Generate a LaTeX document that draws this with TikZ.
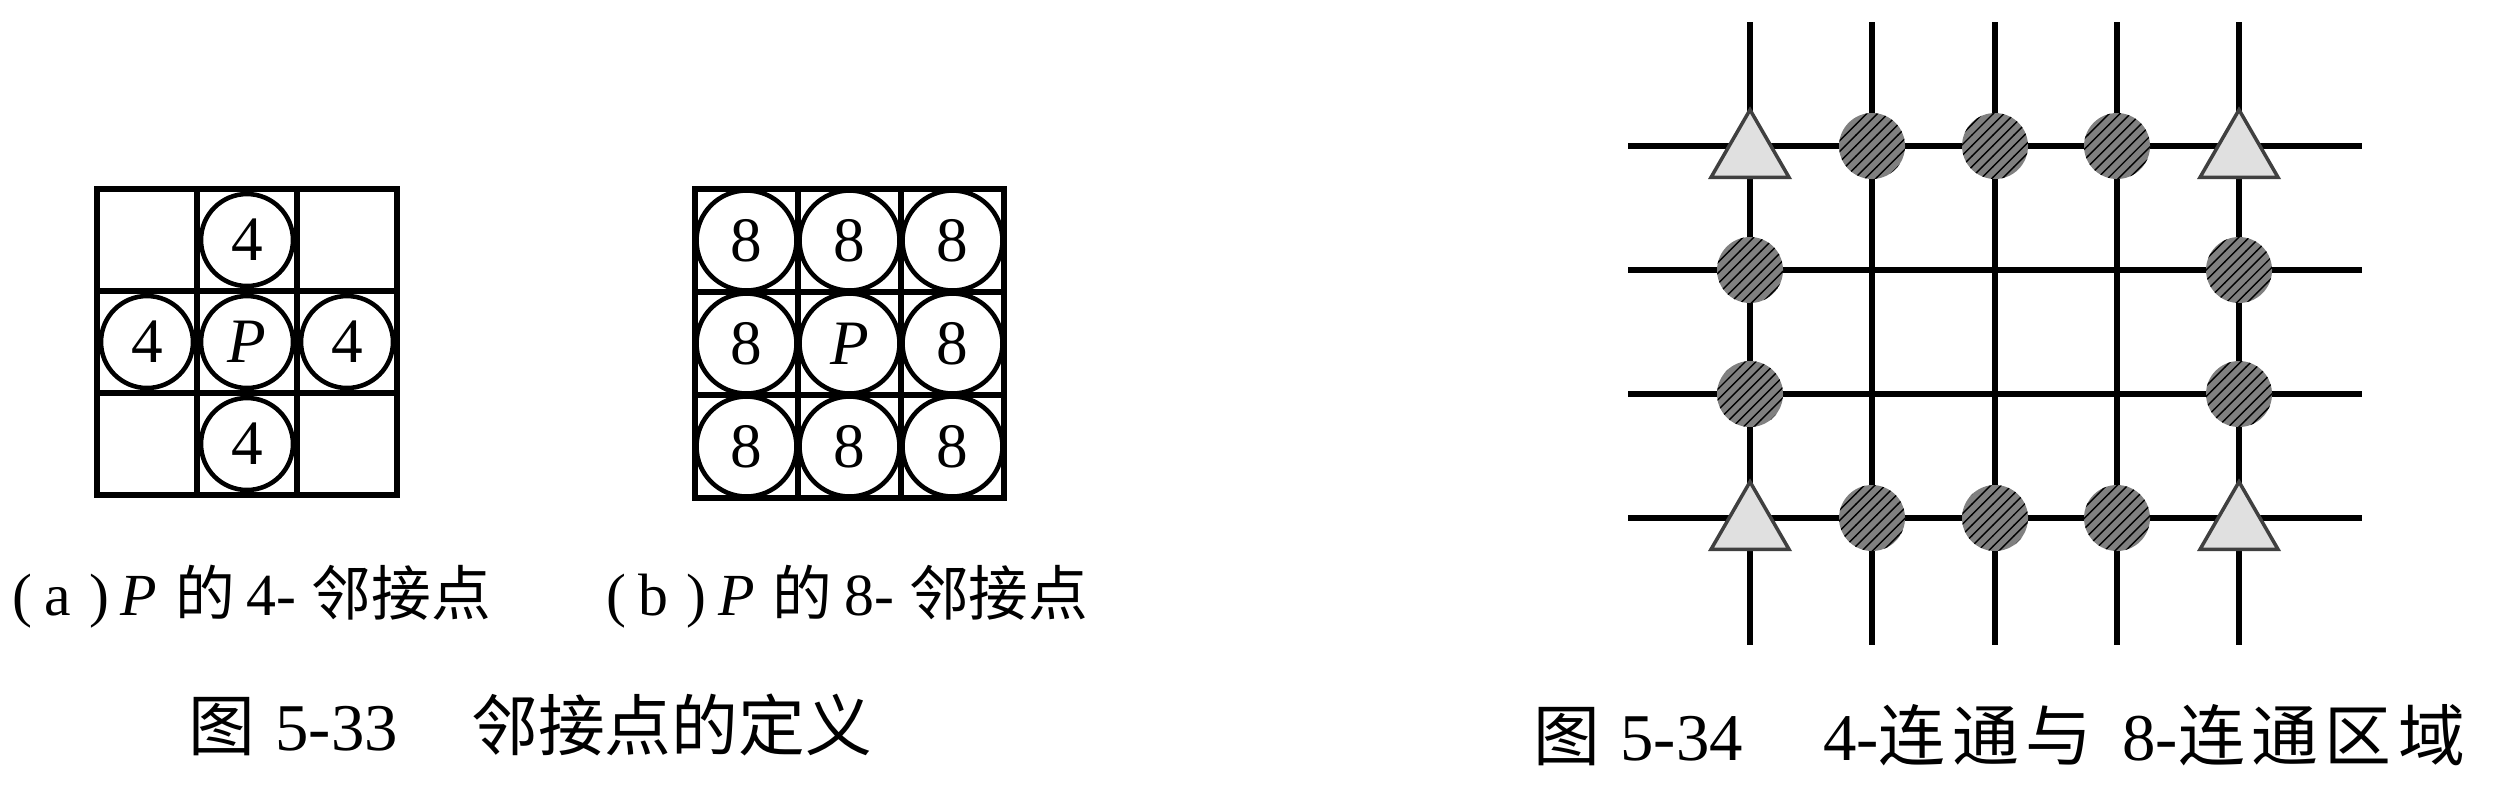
\documentclass[tikz,border=0pt]{standalone}
\usepackage{fontspec}
\setmainfont{Liberation Serif}
\newfontfamily\cjk{Noto Sans CJK SC}
\newfontfamily\cjkwide[LetterSpace=10]{Noto Sans CJK SC}
\usetikzlibrary{shapes.geometric,patterns}
\tikzset{
  cellline/.style={line width=1.6pt},
  nbra/.style={circle,draw,line width=1.3pt,fill=white,minimum size=9.2mm,inner sep=0pt,font=\fontsize{18pt}{18pt}\selectfont},
  nbrb/.style={nbra,minimum size=10mm},
  gridline/.style={line width=1.8pt},
  blob/.style={circle,minimum size=6.6mm,inner sep=0pt,preaction={fill=black!50},pattern=north east lines,pattern color=black},
  tri/.style={regular polygon,regular polygon sides=3,minimum size=9mm,inner sep=0pt,fill=black!12,draw=black!75,line width=1pt,yshift=-2.5pt},
  sublabel/.style={anchor=base west,inner sep=0pt,font=\fontsize{17pt}{17pt}\selectfont},
  figcaption/.style={anchor=base west,inner sep=0pt,font=\fontsize{19pt}{19pt}\selectfont}
}
\begin{document}
\begin{tikzpicture}[x=0.1mm,y=-0.1mm]
\useasboundingbox (0,0) rectangle (2504,789);
\draw[cellline] (97,189) rectangle (397,495) (197,189)--(197,495) (297,189)--(297,495) (97,291)--(397,291) (97,393)--(397,393);
\node[nbra] (n4) at (247,240) {4};
\node[nbra] (w4) at (147,342) {4};
\node[nbra] (p4) at (247,342) {\textit{P}};
\node[nbra] (e4) at (347,342) {4};
\node[nbra] (s4) at (247,444) {4};
\draw[cellline] (695,189) rectangle (1004,498) (798,189)--(798,498) (901,189)--(901,498) (695,292)--(1004,292) (695,395)--(1004,395);
\foreach \x [count=\i] in {746.5,849.5,952.5}{
  \node[nbrb] (nw\i) at (\x,240.5) {8};
  \node[nbrb] (sw\i) at (\x,446.5) {8};}
\node[nbrb] (w8) at (746.5,343.5) {8};
\node[nbrb] (p8) at (849.5,343.5) {\textit{P}};
\node[nbrb] (e8) at (952.5,343.5) {8};
\node[sublabel] (suba) at (12,615) {(\hspace{.2em}a\hspace{.3em})\hspace{.2em}\textit{P}\hspace{.3em}{\cjk 的}\hspace{.2em}4-\hspace{.25em}{\cjk 邻接点}};
\node[sublabel] (subb) at (606,615) {(\hspace{.2em}b\hspace{.3em})\hspace{.2em}\textit{P}\hspace{.3em}{\cjk 的}\hspace{.2em}8-\hspace{.25em}{\cjk 邻接点}};
\node[figcaption] (cap33) at (188,750) {{\cjk 图}\hspace{.3em}5-33\hspace{1.1em}{\cjk 邻接点的定义}};
\foreach \x [count=\i] in {1750,1872,1995,2117,2239}{
  \coordinate (t\i) at (\x,22); \coordinate (b\i) at (\x,645);
  \draw[gridline] (t\i)--(b\i);}
\foreach \y [count=\j] in {146,270,394,518}{
  \coordinate (l\j) at (1628,\y); \coordinate (r\j) at (2362,\y);
  \draw[gridline] (l\j)--(r\j);}
\node[tri] (tl) at (t1|-l1) {}; \node[tri] (tr) at (t5|-l1) {};
\node[tri] (bl) at (t1|-l4) {}; \node[tri] (br) at (t5|-l4) {};
\foreach \i in {2,3,4}{
  \node[blob] (top\i) at (t\i|-l1) {};
  \node[blob] (bot\i) at (t\i|-l4) {};}
\foreach \j in {2,3}{
  \node[blob] (lft\j) at (t1|-l\j) {};
  \node[blob] (rgt\j) at (t5|-l\j) {};}
\node[figcaption] (cap34) at (1533,760) {{\cjk 图}\hspace{.3em}5-34\hspace{1.2em}4-{\cjkwide 连通与}\hspace{.45em}8-{\cjkwide 连通区域}};
\end{tikzpicture}
\end{document}
